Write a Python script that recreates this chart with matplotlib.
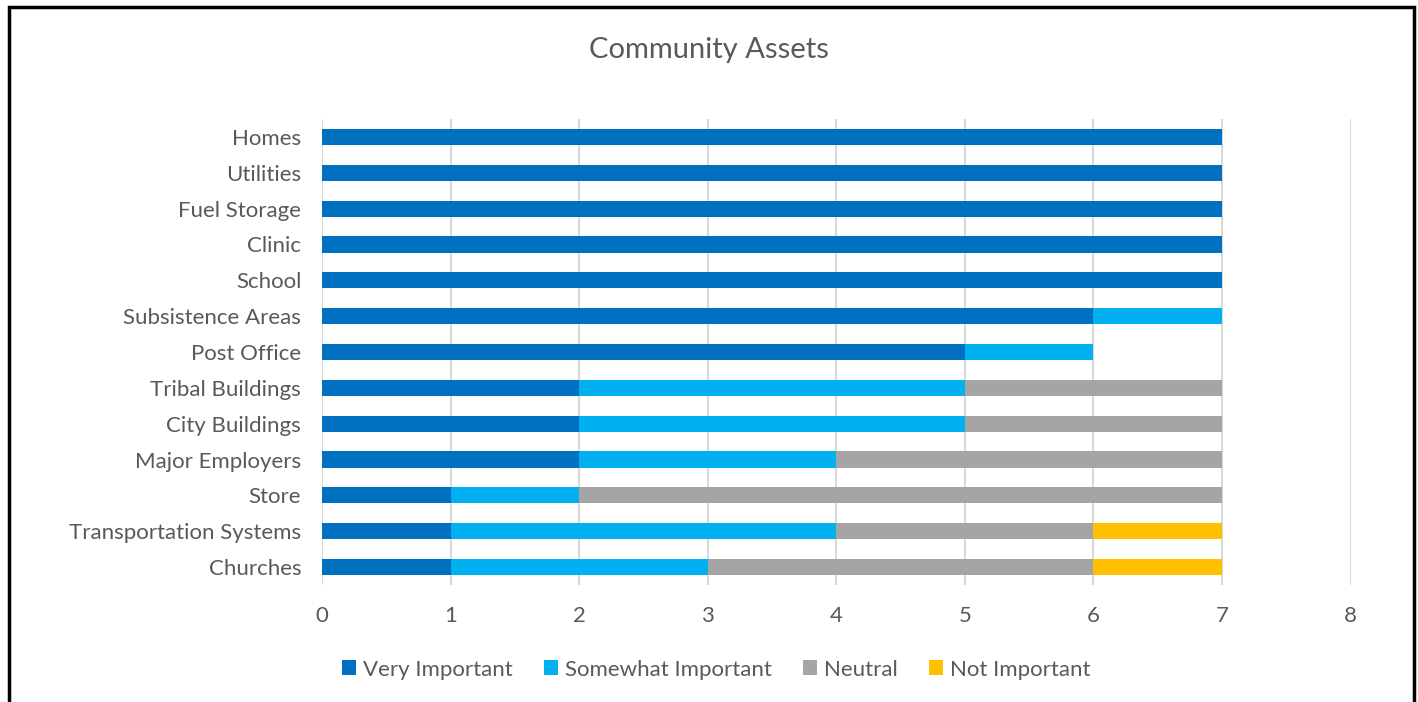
import matplotlib.pyplot as plt
import numpy as np
from matplotlib.patches import Rectangle

plt.rcParams['font.family'] = ['Lato', 'DejaVu Sans']

assets = ["Homes", "Utilities", "Fuel Storage", "Clinic", "School",
          "Subsistence Areas", "Post Office", "Tribal Buildings",
          "City Buildings", "Major Employers", "Store",
          "Transportation Systems", "Churches"]
very_important = [7, 7, 7, 7, 7, 6, 5, 2, 2, 2, 1, 1, 1]
somewhat_important = [0, 0, 0, 0, 0, 1, 1, 3, 3, 2, 1, 3, 2]
neutral = [0, 0, 0, 0, 0, 0, 0, 2, 2, 3, 5, 2, 3]
not_important = [0, 0, 0, 0, 0, 0, 0, 0, 0, 0, 0, 1, 1]

series = [("Very Important", very_important, "#0070C0"),
          ("Somewhat Important", somewhat_important, "#00B0F0"),
          ("Neutral", neutral, "#A5A5A5"),
          ("Not Important", not_important, "#FFC000")]

text_color = "#595959"

fig = plt.figure(figsize=(14.18, 7.02), dpi=100)
ax = fig.add_axes([0.2271, 0.1667, 0.7253, 0.6638])

y = np.arange(len(assets))
left = np.zeros(len(assets))
for name, vals, color in series:
    vals = np.array(vals, dtype=float)
    ax.barh(y, vals, left=left, height=0.45, color=color, label=name, zorder=3)
    left += vals

ax.set_yticks(y)
ax.set_yticklabels(assets)
ax.set_ylim(len(assets) - 0.5, -0.5)
ax.set_xlim(0, 8)
ax.set_xticks(range(0, 9))
ax.tick_params(axis='both', length=0, labelsize=16, colors=text_color)
ax.tick_params(axis='x', pad=15)
ax.tick_params(axis='y', pad=15)
ax.grid(axis='x', color="#D9D9D9", linewidth=1.5, zorder=0)
for s in ax.spines.values():
    s.set_visible(False)

fig.text(0.5, 0.929, "Community Assets", ha='center', va='center',
         fontsize=21, color=text_color)

fig.legend(loc='center', bbox_to_anchor=(0.505, 0.046), ncol=4, frameon=False,
           fontsize=16, labelcolor=text_color, handlelength=0.65, handleheight=0.65,
           handletextpad=0.3, columnspacing=1.4)

# outer frame of the chart
fig.patches.append(Rectangle((0.0063, -0.05), 0.9908, 1.04, transform=fig.transFigure,
                             fill=False, edgecolor="black", linewidth=2.5))

fig.savefig("out.png", dpi=100)
